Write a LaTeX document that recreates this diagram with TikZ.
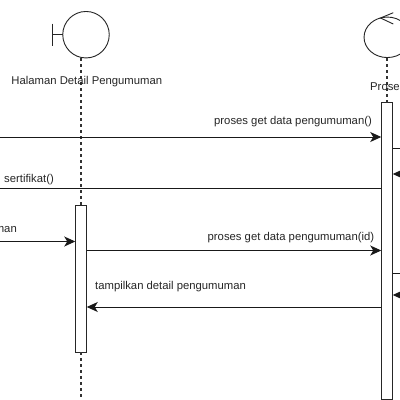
\documentclass[tikz,border=0pt]{standalone}
\usepackage{fontspec}
\setmainfont{Liberation Sans}
\usetikzlibrary{arrows.meta,shapes.geometric}
\tikzset{
  shapeline/.style={draw=black!85,line width=0.9pt},
  lifeline/.style={draw=black!80,line width=1.1pt,dash pattern=on 3pt off 3pt},
  activation/.style={draw=black!85,fill=white,line width=0.9pt,minimum width=11.5pt,inner sep=0pt,outer sep=0pt},
  msg/.style={draw=black!90,line width=1pt},
  msgarrow/.style={msg,-{Stealth[length=11pt,width=10pt,inset=3pt]}},
  label/.style={font=\fontsize{11.3}{13}\selectfont,text=black!85,inner sep=0pt},
}
\begin{document}
\begin{tikzpicture}[x=1pt,y=-1pt]
\useasboundingbox (0,0) rectangle (400,400);
\clip (0,0) rectangle (400,400);
\fill[white] (0,0) rectangle (400,400);
% free ends
\coordinate (l1) at (0,137);
\coordinate (l2) at (0,188);
\coordinate (l3) at (0,241.5);
\coordinate (l4) at (0,250.5);
\coordinate (l5) at (0,307);
\coordinate (r1) at (400,148.5);
\coordinate (r2) at (400,174);
\coordinate (r3) at (400,273);
\coordinate (r4) at (400,295);
\coordinate (bot1) at (81,400);
% boundary
\node[circle,shapeline,minimum size=46.5pt,inner sep=0pt,outer sep=0pt] (bnd) at (86,34.7) {};
\coordinate (btop) at (52.5,23.5);
\coordinate (bbot) at (52.5,46);
\coordinate (bmid) at (52.5,34.7);
\draw[shapeline] (btop) -- (bbot);
\draw[shapeline] (bmid) -- (bnd.west);
% control
\node[ellipse,shapeline,minimum width=46.5pt,minimum height=40.5pt,inner sep=0pt,outer sep=0pt] (ctl) at (387.3,37.3) {};
\coordinate (ca) at (393.3,12.7);
\coordinate (cb) at (380.5,18);
\coordinate (cc) at (393.3,24);
\draw[shapeline] (ca) -- (cb) -- (cc);
% activations
\node[activation,minimum height=147pt] (a1) at (81,278.5) {};
\node[activation,minimum height=297pt] (a2) at (387,251) {};
% lifelines
\draw[lifeline] (81,58) -- (a1.north);
\draw[lifeline] (a1.south) -- (bot1);
\draw[lifeline] (387,58) -- (a2.north);
% labels
\node[label,anchor=base] (t1) at (86.8,84.5) {Halaman Detail Pengumuman};
\node[label,anchor=base west] (t2) at (370,90) {Proses};
\node[label,anchor=base west] (t3) at (214,124.5) {proses get data pengumuman()};
\node[label,anchor=base west] (t4) at (4,182) {sertifikat()};
\node[label,anchor=base east] (t5) at (17,232.5) {man};
\node[label,anchor=base west] (t6) at (207.5,240.5) {proses get data pengumuman(id)};
\node[label,anchor=base west] (t7) at (95,289.5) {tampilkan detail pengumuman};
% messages
\draw[msgarrow] (l1) -- (a2.west |- l1);
\draw[msg] (a2.west |- l2) -- (l2);
\draw[msgarrow] (l3) -- (a1.west |- l3);
\draw[msgarrow] (a1.east |- l4) -- (a2.west |- l4);
\draw[msgarrow] (a2.west |- l5) -- (a1.east |- l5);
\draw[msg] (a2.east |- r1) -- (r1);
\draw[msgarrow] (r2) -- (a2.east |- r2);
\draw[msg] (a2.east |- r3) -- (r3);
\draw[msgarrow] (r4) -- (a2.east |- r4);
\end{tikzpicture}
\end{document}
